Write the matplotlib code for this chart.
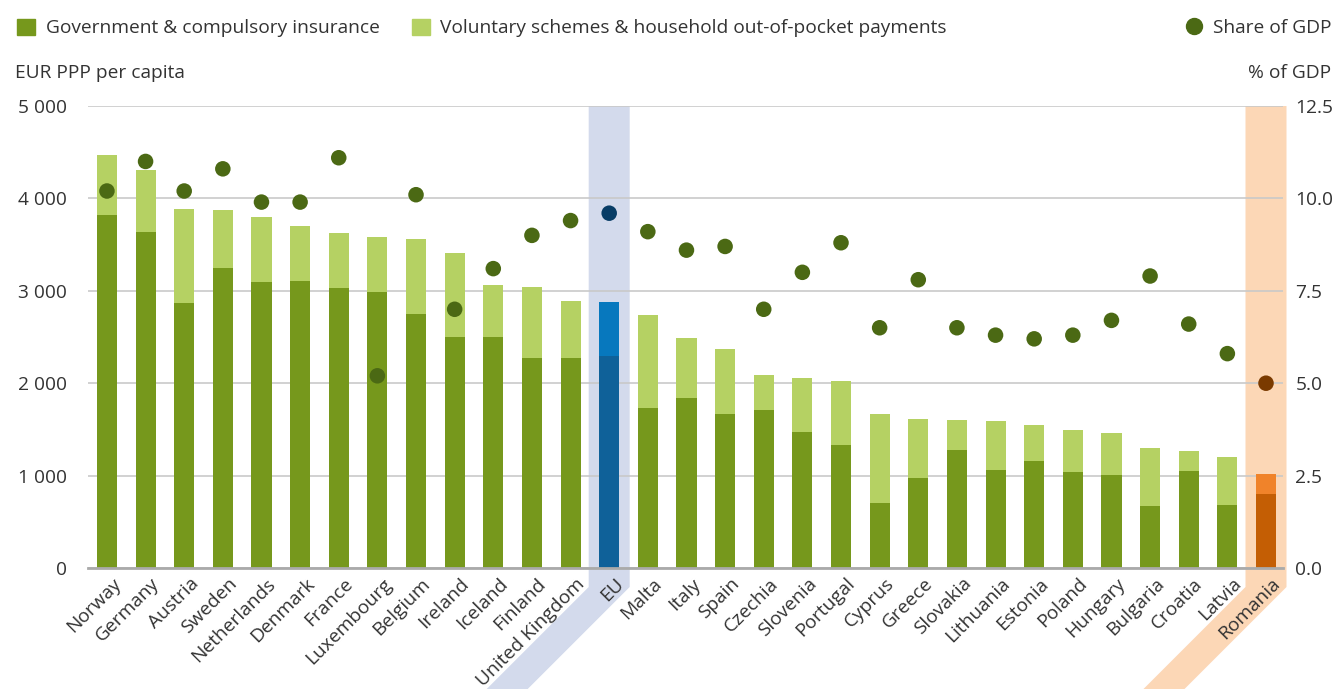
import matplotlib

matplotlib.use("Agg")
import matplotlib.pyplot as plt
from matplotlib.patches import Patch, Polygon
from matplotlib.lines import Line2D
from matplotlib.transforms import IdentityTransform, ScaledTranslation
import numpy as np

plt.rcParams["font.family"] = ["Open Sans", "DejaVu Sans"]

countries = ["Norway", "Germany", "Austria", "Sweden", "Netherlands", "Denmark", "France",
             "Luxembourg", "Belgium", "Ireland", "Iceland", "Finland", "United Kingdom", "EU",
             "Malta", "Italy", "Spain", "Czechia", "Slovenia", "Portugal", "Cyprus", "Greece",
             "Slovakia", "Lithuania", "Estonia", "Poland", "Hungary", "Bulgaria", "Croatia",
             "Latvia", "Romania"]
government = [3816, 3632, 2865, 3242, 3090, 3101, 3025, 2992, 2744, 2495, 2495, 2278, 2278, 2289,
              1737, 1835, 1671, 1715, 1476, 1336, 707, 978, 1282, 1065, 1162, 1043, 1011, 675,
              1054, 686, 805]
total = [4466, 4304, 3881, 3870, 3794, 3697, 3621, 3578, 3556, 3405, 3058, 3036, 2895, 2884,
         2733, 2484, 2365, 2094, 2051, 2029, 1671, 1617, 1606, 1595, 1552, 1498, 1466, 1304,
         1271, 1206, 1021]
share_gdp = [10.2, 11.0, 10.2, 10.8, 9.9, 9.9, 11.1, 5.2, 10.1, 7.0, 8.1, 9.0, 9.4, 9.6, 9.1, 8.6,
             8.7, 7.0, 8.0, 8.8, 6.5, 7.8, 6.5, 6.3, 6.2, 6.3, 6.7, 7.9, 6.6, 5.8, 5.0]
left_ticks = [0, 1000, 2000, 3000, 4000, 5000]
left_labels = ["0", "1 000", "2 000", "3 000", "4 000", "5 000"]
right_ticks = [0, 2.5, 5.0, 7.5, 10.0, 12.5]

voluntary = np.array(total) - np.array(government)

gov_c, vol_c, dot_c = "#76981c", "#b5d163", "#4b6914"
hl = {"EU": ("#0f6199", "#0778be", "#083d66", "#d3daec"),
      "Romania": ("#c45e04", "#f0832a", "#7a3a00", "#fcd7b6")}
txt = "#333333"
fs = 13.8

x = np.arange(len(countries))
gc = [hl[c][0] if c in hl else gov_c for c in countries]
vc = [hl[c][1] if c in hl else vol_c for c in countries]
dc = [hl[c][2] if c in hl else dot_c for c in countries]

fig = plt.figure(figsize=(13.32, 6.89), dpi=100)
ax = fig.add_axes([88 / 1332, 121 / 689, 1195 / 1332, 462 / 689])
ax.bar(x, government, width=0.52, color=gc, zorder=2)
ax.bar(x, voluntary, bottom=government, width=0.52, color=vc, zorder=2)
ax.set_xlim(-0.49, 30.44)
ax.set_ylim(0, 5000)
ax.set_yticks(left_ticks, left_labels)
ax.set_axisbelow(True)
ax.grid(axis="y", color="#c9c9c9", lw=1.2)
for s in ["top", "left", "right"]:
    ax.spines[s].set_visible(False)
ax.spines["bottom"].set_color("#aaaaaa")
ax.spines["bottom"].set_linewidth(2)
ax.tick_params(axis="y", length=0, pad=15, labelsize=fs, labelcolor=txt)
ax.tick_params(axis="x", length=0, pad=4, labelsize=fs, labelcolor=txt)
ax.set_xticks(x)
ax.set_xticklabels(countries, rotation=45, ha="right", rotation_mode="anchor")
shift = ScaledTranslation(5 / 100, -1 / 100, fig.dpi_scale_trans)
for lbl in ax.get_xticklabels():
    lbl.set_transform(lbl.get_transform() + shift)

ax2 = ax.twinx()
ax2.scatter(x, share_gdp, s=125, c=dc, zorder=3, linewidths=0)
ax2.set_ylim(0, 12.5)
ax2.set_yticks(right_ticks, [f"{t:.1f}" for t in right_ticks])
ax2.tick_params(axis="y", length=0, pad=9, labelsize=fs, labelcolor=txt)
for s in ax2.spines.values():
    s.set_visible(False)

# highlight bands running down along the tick labels
fig.canvas.draw()
top = ax.transAxes.transform((0, 1))[1]
bend = 689 - 587
for c in hl:
    cx = ax.transData.transform((countries.index(c), 0))[0]
    h = 20.5
    pts = [(cx - h, top), (cx + h, top), (cx + h, bend), (cx + h - bend, 0),
           (cx - h - bend, 0), (cx - h, bend)]
    ax.add_patch(Polygon(pts, closed=True, transform=IdentityTransform(), color=hl[c][3],
                         lw=0, zorder=0.2, clip_on=False))

fig.text(15 / 1332, 1 - 73 / 689, "EUR PPP per capita", fontsize=fs, color=txt, va="center")
fig.text(1331 / 1332, 1 - 73 / 689, "% of GDP", fontsize=fs, color=txt, va="center", ha="right")

fig.legend(handles=[Patch(color=gov_c, label="Government & compulsory insurance"),
                    Patch(color=vol_c, label="Voluntary schemes & household out-of-pocket payments")],
           loc="center left", bbox_to_anchor=(0 / 1332, 1 - 28 / 689), ncol=2, frameon=False,
           fontsize=fs, handlelength=0.95, handleheight=0.95, handletextpad=0.55,
           columnspacing=1.65, labelcolor=txt)
fig.legend(handles=[Line2D([], [], ls="", marker="o", ms=11.5, color=dot_c, label="Share of GDP")],
           loc="center right", bbox_to_anchor=(1349 / 1332, 1 - 28 / 689), frameon=False,
           fontsize=fs, handlelength=1.0, handletextpad=0.5, labelcolor=txt)

plt.savefig("out.png", dpi=100)
